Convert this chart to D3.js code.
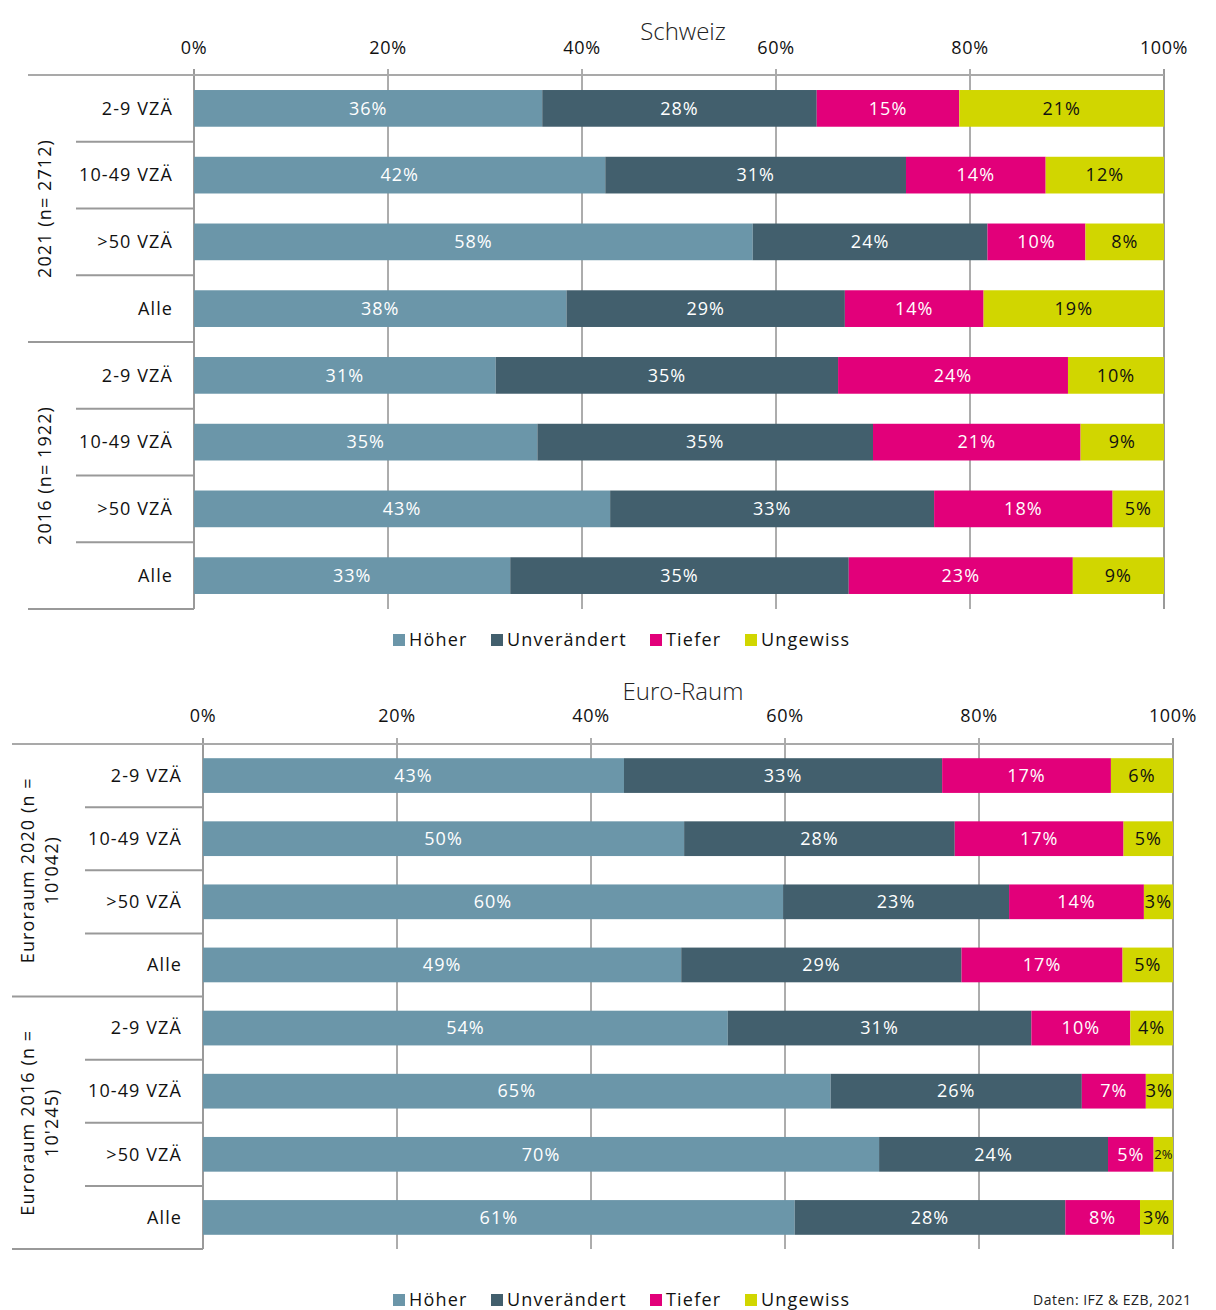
<!DOCTYPE html>
<html><head><meta charset="utf-8">
<script src="https://cdn.jsdelivr.net/npm/d3@7"></script>
<style>
body{margin:0;background:#fff;}
text{font-family:"Open Sans","DejaVu Sans",sans-serif;}
</style></head>
<body><svg id="c" width="1216" height="1310"></svg>
<script>
// ---------- data ----------
const categories = ["2-9 VZÄ", "10-49 VZÄ", ">50 VZÄ", "Alle"];
const seriesNames = ["Höher", "Unverändert", "Tiefer", "Ungewiss"];
const seriesColors = ["#6b96a9", "#425f6d", "#e2007a", "#d1d600"];
const tickValues = [0, 20, 40, 60, 80, 100];

const chTitle = "Schweiz";
const chGroups = [["2021 (n= 2712)"], ["2016 (n= 1922)"]];
const chHoeher      = [35.9, 42.4, 57.6, 38.4, 31.1, 35.4, 42.9, 32.6];
const chUnveraendert= [28.3, 31.0, 24.2, 28.7, 35.3, 34.6, 33.4, 34.9];
const chTiefer      = [14.7, 14.4, 10.1, 14.3, 23.7, 21.4, 18.4, 23.1];
const chUngewiss    = [21.1, 12.2,  8.1, 18.6,  9.9,  8.6,  5.3,  9.4];

const euTitle = "Euro-Raum";
const euGroups = [["Euroraum 2020 (n =", "10'042)"], ["Euroraum 2016 (n =", "10'245)"]];
const euHoeher      = [43.4, 49.6, 59.8, 49.3, 54.1, 64.7, 69.7, 61.0];
const euUnveraendert= [32.8, 27.9, 23.3, 28.9, 31.3, 25.9, 23.6, 27.9];
const euTiefer      = [17.4, 17.4, 13.9, 16.6, 10.2,  6.6,  4.7,  7.7];
const euUngewiss    = [ 6.4,  5.1,  3.0,  5.2,  4.4,  2.8,  2.0,  3.4];

const source = "Daten: IFZ & EZB, 2021";

// ---------- drawing ----------
const svg = d3.select("#c");
const fmt = v => Math.round(v) + "%";

function panel(o) {
  const g = svg.append("g");
  const rows = [];
  o.groups.forEach((gr, gi) => categories.forEach((c, ci) => rows.push(gi * categories.length + ci)));
  const x = d3.scaleLinear().domain([0, 100]).range([o.x0, o.x1]);
  const y = d3.scaleBand().domain(rows).range([o.yTop, o.yBot]).paddingInner(0.45).paddingOuter(0.225);
  const step = y.step();

  // gridlines
  g.append("g").selectAll("line").data(tickValues).join("line")
    .attr("x1", d => x(d)).attr("x2", d => x(d))
    .attr("y1", o.yTop - 6).attr("y2", o.yBot)
    .attr("stroke", d => (d === 0 || d === 100) ? "#9a9a9a" : "#5a5a5a")
    .attr("stroke-width", d => (d === 0 || d === 100) ? 2 : 1);

  // top axis line
  g.append("line").attr("x1", o.groupLineX).attr("x2", x(100)).attr("y1", o.yTop).attr("y2", o.yTop)
    .attr("stroke", "#a9a9a9").attr("stroke-width", 2);

  // tick labels
  g.append("g").selectAll("text").data(tickValues).join("text")
    .attr("x", d => x(d)).attr("y", o.tickY).attr("text-anchor", "middle")
    .attr("font-size", 18).attr("letter-spacing", 0.6).attr("fill", "#111")
    .text(d => d + "%");

  // title
  g.append("text").attr("x", 683).attr("y", o.titleY).attr("text-anchor", "middle")
    .attr("font-size", 24).attr("font-weight", 300).attr("fill", "#222").text(o.title);

  // separators
  rows.forEach(r => {
    const yb = o.yTop + step * (r + 1);
    const isGroup = (r + 1) % categories.length === 0;
    g.append("line").attr("x1", isGroup ? o.groupLineX : o.catLineX).attr("x2", o.x0)
      .attr("y1", yb).attr("y2", yb).attr("stroke", "#999").attr("stroke-width", 2);
  });

  // category labels
  g.append("g").selectAll("text").data(rows).join("text")
    .attr("x", o.x0 - 21).attr("y", r => y(r) + y.bandwidth() / 2)
    .attr("dy", "0.35em").attr("text-anchor", "end").attr("font-size", 18)
    .attr("letter-spacing", 1.1).attr("fill", "#111")
    .text(r => categories[r % categories.length]);

  // group labels
  o.groups.forEach((lines, gi) => {
    const cy = o.yTop + step * categories.length * (gi + 0.5);
    lines.forEach((t, li) => {
      const cx = o.groupX + (li - (lines.length - 1) / 2) * o.groupLineGap;
      g.append("text").attr("transform", `translate(${cx},${cy}) rotate(-90)`)
        .attr("text-anchor", "middle").attr("dy", "0.35em").attr("font-size", 18)
        .attr("letter-spacing", 1.1).attr("fill", "#111").text(t);
    });
  });

  // stacked bars
  const stackData = rows.map(r => ({ r, v: o.series.map(s => s[r]) }));
  const stack = d3.stack().keys([0, 1, 2, 3]).value((d, k) => d.v[k]);
  const layers = stack(stackData);
  layers.forEach((layer, k) => {
    const lg = g.append("g");
    lg.selectAll("rect").data(layer).join("rect")
      .attr("x", d => x(d[0])).attr("width", d => x(d[1]) - x(d[0]))
      .attr("y", d => y(d.data.r)).attr("height", y.bandwidth())
      .attr("fill", seriesColors[k]);
    lg.selectAll("text").data(layer).join("text")
      .attr("x", d => (x(d[0]) + x(d[1])) / 2)
      .attr("y", d => y(d.data.r) + y.bandwidth() / 2).attr("dy", "0.35em")
      .attr("text-anchor", "middle")
      .attr("font-size", d => (x(d[1]) - x(d[0])) < 22 ? 13 : 18)
      .attr("letter-spacing", d => (x(d[1]) - x(d[0])) < 22 ? 0 : 1)
      .attr("fill", k === 3 ? "#111" : "#fff")
      .text(d => fmt(d[1] - d[0]));
  });

  // legend
  const lg = g.append("g").attr("transform", `translate(0,${o.legendY})`);
  const legendX = [393, 491, 650, 745];
  seriesNames.forEach((s, i) => {
    lg.append("rect").attr("x", legendX[i]).attr("y", -6).attr("width", 12).attr("height", 12).attr("fill", seriesColors[i]);
    lg.append("text").attr("x", legendX[i] + 16).attr("y", 0).attr("dy", "0.35em")
      .attr("font-size", 18).attr("letter-spacing", 1.2).attr("fill", "#111").text(s);
  });
}

panel({
  title: chTitle, titleY: 40, tickY: 54, groups: chGroups,
  series: [chHoeher, chUnveraendert, chTiefer, chUngewiss],
  x0: 194, x1: 1164, yTop: 75, yBot: 609,
  groupLineX: 28, catLineX: 76, groupX: 45, groupLineGap: 24, legendY: 640
});
panel({
  title: euTitle, titleY: 700, tickY: 722, groups: euGroups,
  series: [euHoeher, euUnveraendert, euTiefer, euUngewiss],
  x0: 203, x1: 1173, yTop: 744, yBot: 1249,
  groupLineX: 12, catLineX: 85, groupX: 40, groupLineGap: 24, legendY: 1300
});

svg.append("text").attr("x", 1033).attr("y", 1305).attr("font-size", 14)
  .attr("letter-spacing", 0.5).attr("fill", "#222").text(source);
</script></body></html>
